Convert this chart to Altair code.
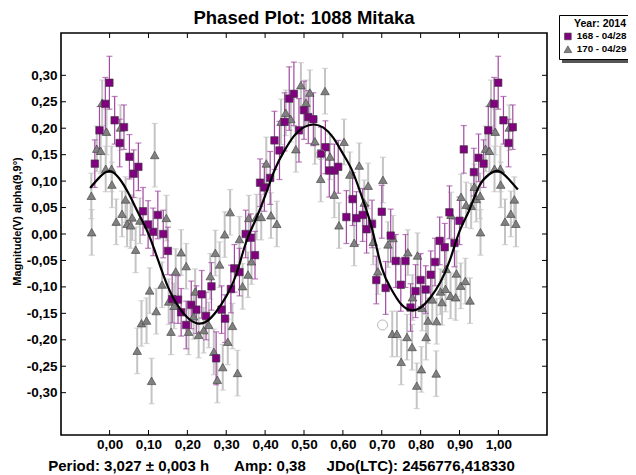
import altair as alt
import pandas as pd

SERIES_A = "168 - 04/28"
SERIES_B = "170 - 04/29"

# ---- series "168 - 04/28" (purple squares): phase, magnitude, error
sq_phase = [0.013, 0.026, 0.037, 0.051, 0.062, 0.074, 0.086, 0.099, 0.112, 0.124,
            0.138, 0.150, 0.161, 0.176, 0.184, 0.197, 0.210, 0.223, 0.237, 0.248,
            0.262, 0.274, 0.288, 0.297, 0.312, 0.321, 0.334, 0.350, 0.363, 0.374,
            0.387, 0.398, 0.413, 0.424, 0.437, 0.450, 0.462, 0.474, 0.487, 0.500,
            0.511, 0.524, 0.544, 0.555, 0.565, 0.578, 0.588, 0.609, 0.625, 0.635,
            0.651, 0.661, 0.675, 0.686, 0.700, 0.710, 0.723, 0.736, 0.749, 0.761,
            0.774, 0.787, 0.800, 0.813, 0.826, 0.837, 0.849, 0.862, 0.874, 0.887,
            0.900, 0.911, 0.937, 0.949, 0.962, 0.974, 0.989, 0.9995]
sq_mag = [0.215, 0.172, 0.202, 0.146, 0.114, 0.127, 0.043, 0.018, 0.004, 0.036,
          0.000, -0.032, -0.123, -0.124, -0.148, -0.172, -0.134, -0.143, -0.114, -0.155,
          -0.099, -0.235, -0.143, -0.160, -0.104, -0.065, -0.072, 0.000, -0.007, -0.040,
          0.097, 0.088, 0.106, 0.177, 0.158, 0.212, 0.256, 0.265, 0.196, 0.234,
          0.221, 0.217, 0.152, 0.164, 0.120, 0.120, 0.127, 0.032, 0.066, 0.030,
          0.036, 0.009, 0.019, -0.087, 0.042, -0.102, -0.003, -0.051, -0.096, -0.051,
          -0.139, -0.108, -0.087, -0.105, -0.077, -0.053, -0.013, -0.025, 0.041, -0.017,
          0.025, 0.160, 0.117, 0.144, 0.133, 0.196, 0.246, 0.286]
sq_err = [0.045, 0.045, 0.042, 0.042, 0.045, 0.045, 0.045, 0.045, 0.045, 0.045,
          0.045, 0.045, 0.045, 0.045, 0.045, 0.045, 0.045, 0.045, 0.045, 0.045,
          0.045, 0.050, 0.045, 0.045, 0.045, 0.045, 0.045, 0.045, 0.045, 0.045,
          0.045, 0.045, 0.050, 0.055, 0.055, 0.055, 0.060, 0.060, 0.060, 0.055,
          0.050, 0.050, 0.050, 0.050, 0.050, 0.050, 0.050, 0.050, 0.050, 0.050,
          0.050, 0.045, 0.045, 0.045, 0.050, 0.050, 0.050, 0.050, 0.050, 0.050,
          0.045, 0.050, 0.050, 0.045, 0.045, 0.045, 0.045, 0.045, 0.050, 0.045,
          0.045, 0.045, 0.045, 0.045, 0.045, 0.045, 0.050, 0.050]

# ---- series "170 - 04/29" (grey triangles)
tri_phase = [0.005, 0.006, 0.017, 0.028, 0.032, 0.041, 0.045, 0.054, 0.058, 0.067,
             0.071, 0.078, 0.082, 0.095, 0.103, 0.108, 0.116, 0.120, 0.135, 0.146,
             0.152, 0.158, 0.166, 0.170, 0.184, 0.197, 0.203, 0.216, 0.220, 0.229,
             0.242, 0.255, 0.259, 0.268, 0.272, 0.277, 0.283, 0.291, 0.296, 0.304,
             0.310, 0.316, 0.329, 0.334, 0.342, 0.356, 0.358, 0.365, 0.378, 0.390,
             0.403, 0.415, 0.430, 0.441, 0.453, 0.466, 0.479, 0.492, 0.505, 0.515,
             0.528, 0.543, 0.554, 0.567, 0.578, 0.590, 0.603, 0.618, 0.629, 0.642,
             0.655, 0.665, 0.678, 0.690, 0.703, 0.716, 0.727, 0.729, 0.739, 0.750,
             0.765, 0.767, 0.778, 0.779, 0.790, 0.792, 0.802, 0.804, 0.814, 0.819,
             0.830, 0.840, 0.841, 0.851, 0.855, 0.864, 0.866, 0.877, 0.878, 0.890,
             0.892, 0.903, 0.904, 0.915, 0.917, 0.927, 0.930, 0.938, 0.943, 0.953,
             0.954, 0.967, 0.977, 0.981, 0.990, 0.992]
tri_mag = [0.123, 0.093, 0.023, 0.201, 0.038, 0.065, 0.019, 0.016, 0.031, -0.030,
           -0.221, 0.025, -0.169, -0.164, -0.107, -0.278, 0.149, -0.146, -0.096, 0.030,
           -0.128, -0.185, -0.136, -0.071, -0.035, -0.061, -0.185, -0.156, -0.109, -0.191,
           -0.182, -0.172, -0.080, -0.223, -0.036, -0.276, -0.058, -0.252, -0.001, -0.204,
           0.041, -0.174, -0.263, -0.010, -0.099, -0.077, 0.030, -0.052, 0.032, 0.032,
           0.133, 0.035, 0.019, 0.212, 0.229, 0.217, 0.160, 0.281, 0.248, 0.267,
           0.175, 0.104, 0.270, 0.146, 0.074, 0.016, 0.174, 0.112, -0.017, 0.129,
           0.059, 0.091, -0.015, -0.071, 0.102, -0.020, -0.189, -0.008, -0.189, -0.242,
           -0.195, -0.035, -0.214, -0.120, -0.287, -0.041, -0.256, -0.140, -0.195, -0.164,
           -0.124, -0.264, -0.165, -0.109, -0.129, -0.104, -0.066, -0.117, 0.036, -0.120,
           -0.075, -0.098, 0.070, -0.089, 0.055, -0.126, 0.053, 0.089, 0.066, 0.072,
           0.003, 0.161, 0.157, 0.248, 0.123, 0.193]
tri_err = [0.043, 0.043, 0.043, 0.043, 0.043, 0.043, 0.043, 0.043, 0.043, 0.043,
           0.043, 0.043, 0.043, 0.043, 0.043, 0.043, 0.060, 0.043, 0.043, 0.043,
           0.043, 0.043, 0.043, 0.043, 0.043, 0.043, 0.043, 0.043, 0.043, 0.043,
           0.043, 0.043, 0.043, 0.043, 0.043, 0.043, 0.043, 0.043, 0.043, 0.043,
           0.043, 0.043, 0.043, 0.043, 0.043, 0.043, 0.043, 0.043, 0.043, 0.043,
           0.050, 0.043, 0.043, 0.043, 0.043, 0.043, 0.043, 0.043, 0.043, 0.043,
           0.043, 0.043, 0.043, 0.043, 0.043, 0.043, 0.043, 0.043, 0.043, 0.043,
           0.043, 0.043, 0.043, 0.043, 0.043, 0.043, 0.043, 0.043, 0.043, 0.043,
           0.043, 0.043, 0.043, 0.043, 0.043, 0.043, 0.043, 0.043, 0.043, 0.043,
           0.043, 0.043, 0.043, 0.043, 0.043, 0.043, 0.043, 0.043, 0.043, 0.043,
           0.043, 0.043, 0.043, 0.043, 0.043, 0.043, 0.043, 0.043, 0.043, 0.043,
           0.043, 0.043, 0.043, 0.043, 0.043, 0.043]

# ---- Fourier fit curve
fit_phase = [-0.05, -0.025, 0.00, 0.025, 0.05, 0.075, 0.10, 0.125, 0.15, 0.175,
             0.20, 0.225, 0.25, 0.275, 0.30, 0.325, 0.35, 0.375, 0.40, 0.425,
             0.45, 0.475, 0.50, 0.525, 0.55, 0.575, 0.60, 0.625, 0.65, 0.675,
             0.70, 0.725, 0.75, 0.775, 0.80, 0.825, 0.85, 0.875, 0.90, 0.925,
             0.95, 0.975, 1.00, 1.025, 1.05]
fit_mag = [0.087, 0.108, 0.119, 0.105, 0.075, 0.038, 0.000, -0.050, -0.100, -0.135,
           -0.158, -0.169, -0.165, -0.146, -0.118, -0.078, -0.018, 0.026, 0.072, 0.122,
           0.158, 0.186, 0.202, 0.207, 0.201, 0.182, 0.152, 0.118, 0.068, 0.010,
           -0.064, -0.105, -0.133, -0.144, -0.139, -0.120, -0.092, -0.050, 0.005, 0.045,
           0.090, 0.112, 0.119, 0.105, 0.084]

# ---- circled (flagged) observations
circ_phase = [0.543, 0.702]
circ_mag = [0.150, -0.172]

x_ticks = [0.0, 0.1, 0.2, 0.3, 0.4, 0.5, 0.6, 0.7, 0.8, 0.9, 1.0]
y_ticks = [-0.30, -0.25, -0.20, -0.15, -0.10, -0.05, 0.0, 0.05, 0.10, 0.15, 0.20, 0.25, 0.30]

NB = "\u00a0"
TITLE = "Phased Plot: 1088 Mitaka"
Y_TITLE = "Magnitude(V) alpha(9,9°)"
X_TITLE = ("Period: 3,027 ± 0,003 h" + NB * 6 + "Amp: 0,38" + NB * 5
           + "JDo(LTC): 2456776,418330")
LEGEND_TITLE = "Year: 2014"

# ---------------------------------------------------------------- build tables
XMIN, XMAX = -0.125, 1.125
YMIN, YMAX = -0.38, 0.38
W, H = 486, 402


def phased_rows(phases, mags, errs, series):
    rows = []
    for p, m, e in zip(phases, mags, errs):
        shifts = [0.0]
        if p > 0.95:
            shifts.append(-1.0)
        if p < 0.05:
            shifts.append(1.0)
        for s in shifts:
            rows.append({"phase": p + s, "mag": m, "lo": m - e, "hi": m + e,
                         "series": series})
    return rows


tri_df = pd.DataFrame(phased_rows(tri_phase, tri_mag, tri_err, SERIES_B))
sq_df = pd.DataFrame(phased_rows(sq_phase, sq_mag, sq_err, SERIES_A))
pts_df = pd.concat([tri_df, sq_df], ignore_index=True)
fit_df = pd.DataFrame({"phase": fit_phase, "mag": fit_mag})
circ_df = pd.DataFrame({"phase": circ_phase, "mag": circ_mag})

# inward tick marks on all four sides
dx = 5 * (XMAX - XMIN) / W
dy = 5 * (YMAX - YMIN) / H
tick_rows = []
for t in x_ticks:
    tick_rows.append({"phase": t, "phase2": t, "mag": YMIN, "mag2": YMIN + dy})
    tick_rows.append({"phase": t, "phase2": t, "mag": YMAX, "mag2": YMAX - dy})
for t in y_ticks:
    tick_rows.append({"phase": XMIN, "phase2": XMIN + dx, "mag": t, "mag2": t})
    tick_rows.append({"phase": XMAX, "phase2": XMAX - dx, "mag": t, "mag2": t})
tick_df = pd.DataFrame(tick_rows)

FONT = "Liberation Sans"
xs = alt.Scale(domain=[XMIN, XMAX], nice=False, zero=False)
ys = alt.Scale(domain=[YMIN, YMAX], nice=False, zero=False)

x_axis = alt.Axis(values=x_ticks, grid=False, domain=False, tickSize=0, labelPadding=2,
                  labelExpr="replace(format(datum.value, '.2f'), '.', ',')",
                  labelFont=FONT, labelFontSize=13.5, labelFontWeight="bold",
                  labelColor="black", title=X_TITLE, titleFont=FONT,
                  titleFontSize=15, titleFontWeight="bold", titleColor="black",
                  titleX=220, titleY=30, titleBaseline="middle", titleAlign="center")
y_axis = alt.Axis(values=y_ticks, grid=False, domain=False, tickSize=0, labelPadding=4,
                  labelExpr="replace(replace(format(datum.value, '.2f'), '.', ','), '−', '-')",
                  labelFont=FONT, labelFontSize=13.5, labelFontWeight="bold",
                  labelColor="black", title=Y_TITLE, titleFont=FONT,
                  titleFontSize=11, titleFontWeight="bold", titleColor="black",
                  titleX=-44, titleY=188, titleAngle=270, titleBaseline="middle",
                  titleAlign="center")


def X(field):
    return alt.X(field, type="quantitative", scale=xs, axis=x_axis)


def Y(field):
    return alt.Y(field, type="quantitative", scale=ys, axis=y_axis)


ticks = alt.Chart(tick_df).mark_rule(color="black", strokeWidth=1).encode(
    x=X("phase"), x2="phase2:Q", y=Y("mag"), y2="mag2:Q")

GREY_BAR = "#c4c4c4"
PURPLE_BAR = "#a04aa0"


def bars(df, color, width):
    base = alt.Chart(df)
    rule = base.mark_rule(color=color, strokeWidth=width).encode(
        x=X("phase"), y=Y("lo"), y2="hi:Q")
    cap_lo = base.mark_tick(color=color, orient="horizontal", size=6, thickness=1.2).encode(
        x=X("phase"), y=Y("lo"))
    cap_hi = base.mark_tick(color=color, orient="horizontal", size=6, thickness=1.2).encode(
        x=X("phase"), y=Y("hi"))
    return [rule, cap_lo, cap_hi]


LEG_X, LEG_Y = 498, -18
LEG_W, LEG_H = 68, 45
TRI_PATH = "M0,-1.05L1.15,0.95L-1.15,0.95Z"
legend = alt.Legend(title=LEGEND_TITLE, orient="none", legendX=LEG_X, legendY=LEG_Y,
                    titleFont=FONT, titleFontSize=10.5, titleFontWeight="bold",
                    titleColor="black", titleAnchor="end", titlePadding=2,
                    labelFont=FONT, labelFontSize=9.8, labelFontWeight="bold",
                    labelColor="black", symbolSize=45, symbolStrokeColor="#3c3c3c",
                    symbolStrokeWidth=0.6, rowPadding=2, padding=4,
                    strokeColor="black", fillColor="white", labelOffset=4)
points = alt.Chart(pts_df).mark_point(filled=True, opacity=1, size=56,
                                      stroke="#3c3c3c", strokeWidth=0.6).encode(
    x=X("phase"), y=Y("mag"),
    color=alt.Color("series:N",
                    scale=alt.Scale(domain=[SERIES_A, SERIES_B], range=["#800080", "#808080"]),
                    legend=legend),
    shape=alt.Shape("series:N",
                    scale=alt.Scale(domain=[SERIES_A, SERIES_B], range=["square", TRI_PATH]),
                    legend=legend),
)

circles = alt.Chart(circ_df).mark_point(shape="circle", filled=False, size=100,
                                        stroke="#9a9a9a", strokeWidth=1).encode(
    x=X("phase"), y=Y("mag"))

curve = alt.Chart(fit_df).mark_line(color="black", strokeWidth=2.2, interpolate="natural").encode(
    x=X("phase"), y=Y("mag"))

# chart title and legend drop shadow (decoration, placed in pixels)
title_df = pd.DataFrame({"label": [TITLE]})
title_mark = alt.Chart(title_df).mark_text(font=FONT, fontSize=18.5, fontWeight="bold",
                                           color="black", align="center",
                                           baseline="alphabetic").encode(
    text="label:N", x=alt.value(W / 2), y=alt.value(-9))
shadow = alt.Chart(title_df).mark_rect(color="#555555").encode(
    x=alt.value(LEG_X + 3), x2=alt.value(LEG_X + 3 + LEG_W),
    y=alt.value(LEG_Y + 3), y2=alt.value(LEG_Y + 3 + LEG_H))

layers = ([ticks] + bars(tri_df, GREY_BAR, 2) + bars(sq_df, PURPLE_BAR, 1.2)
          + [points, circles, curve, title_mark, shadow])

chart = alt.layer(*layers).properties(
    width=W, height=H,
    padding={"left": 53, "top": 25, "right": 81, "bottom": 40},
    autosize=alt.AutoSizeParams(type="none"),
).configure_view(stroke="black", strokeWidth=1.6)

chart.save("out.html", embed_options={"renderer": "svg", "actions": False})
